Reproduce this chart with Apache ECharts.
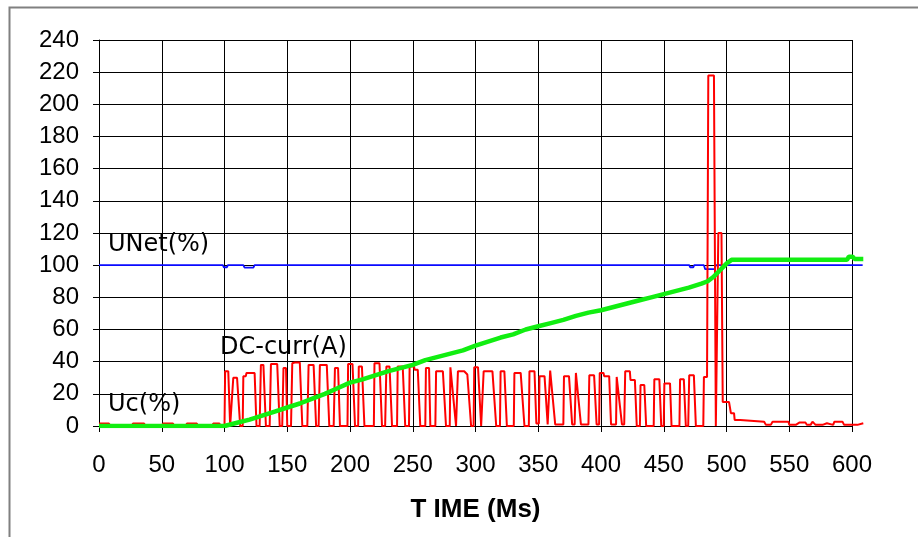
<!DOCTYPE html>
<html>
<head>
<meta charset="utf-8">
<script src="https://cdn.jsdelivr.net/npm/echarts@6/dist/echarts.min.js"></script>
<style>
  html, body { margin: 0; padding: 0; background: #fff; }
  #chart { width: 918px; height: 537px; }
</style>
</head>
<body>
<div id="chart"></div>
<script>
// UNet(%) - blue, flat at 100 with a few small dips
const uNetData = [
    [0, 100], [98.7, 100], [99.5, 98.7], [102, 98.7], [102.7, 100],
    [115, 100], [116, 98.5], [123, 98.5], [124, 100],
    [470.3, 100], [471, 98.7], [473.5, 98.7], [474.3, 100],
    [482, 100], [483, 97.5], [490.5, 97.5], [491.5, 100], [608.5, 100]
];

// DC-curr(A) - red pulse train, spikes near 490 ms
const dcCurrData = [
    [0, 1.5], [8, 1.5], [9, 0], [26, 0], [27, 1.5], [36, 1.5], [37, 0], [50, 0], [51, 1.5], [59, 1.5],
    [60, 0], [69, 0], [70, 1.5], [78, 1.5], [79, 0], [90, 0], [91, 1.5], [96, 1.5], [97, 0], [100, 0],
    [100.5, 34], [103, 34], [104.5, 0], [106, 0], [107, 30], [110, 30], [112.5, 0], [114.5, 0],
    [115, 31], [117, 31], [117.5, 33], [124, 33], [125.5, 0], [128, 0], [129, 38], [131, 38], [133, 0],
    [136, 0], [137, 38.5], [142, 38.5], [144, 0], [146, 0], [147, 36], [149, 36], [150, 0], [153, 0],
    [154, 39], [156, 39.5], [160, 39.5], [162, 0], [166, 0], [167, 38], [171, 38], [173, 0],
    [175, 0], [176, 38], [181.5, 38], [183.5, 0], [187, 0], [188, 36], [190.5, 36], [192, 0],
    [198, 0], [198.5, 38.5], [202, 38.5], [204, 0], [206.5, 0], [207, 37], [209.5, 37], [211.5, 0],
    [219, 0], [219.5, 39], [223.5, 39], [225.5, 0], [228, 0], [229, 37], [231.5, 37], [233.5, 0],
    [237.5, 0], [238, 37], [242, 37], [244, 0], [247, 0], [247.5, 37], [251, 37], [251.5, 35], [254, 35],
    [256, 0], [260, 0], [260.5, 36], [263, 36], [264, 0], [268, 0], [268.6, 34], [274, 34], [276.5, 0],
    [279.5, 0], [280, 36.5], [281.5, 36.5], [284.5, 0], [285.5, 0], [286, 34], [291, 34], [293.5, 32],
    [295, 32], [296.5, 0], [298.5, 0], [299, 36.5], [302, 36.5], [304.5, 0], [306, 0], [306.5, 34],
    [313.5, 34], [316.5, 0], [319.5, 0], [320, 34], [323, 34], [325, 0], [330.5, 0], [331, 33], [336, 33],
    [339, 0], [342.5, 0], [343, 34], [347, 34], [348.5, 1.5], [350.5, 1.5], [351, 31], [355, 31],
    [357.5, 1], [358.5, 1], [359.5, 34.5], [360.5, 34.5], [363.5, 1], [370, 1], [370.5, 31], [374.5, 31],
    [377, 1], [379, 1], [380, 33], [381, 33], [384, 1], [390, 1], [390.7, 31.5], [394.5, 31.5], [396.5, 1],
    [398.5, 1], [399, 33], [402, 33], [402.5, 31], [406.5, 31], [408, 1], [412, 1], [412.5, 30.5],
    [414, 30.5], [416.7, 1], [418.5, 1], [419.3, 34], [423, 34], [423.5, 28.6], [427, 28.6], [428.5, 0],
    [431, 0], [431.5, 25.5], [434.5, 25.5], [436, 0], [442, 0], [442.5, 29], [446.5, 29], [448, 0],
    [450, 0], [450.5, 26.5], [455, 26.5], [456.2, 0], [462.5, 0], [463, 29], [466, 29], [467.6, 0],
    [469.5, 0], [470.3, 31.5], [474, 31.5], [475.6, 0], [481.5, 0], [482, 30.5], [484.5, 30.5],
    [485.5, 218], [490, 218], [491.5, 0], [493, 0], [493.5, 120], [496, 120], [497, 15], [502, 15],
    [503.5, 8], [506, 8], [506.5, 3.8], [511, 3.8], [511.5, 2.7], [530, 2.7], [531.4, 0.7], [535.3, 0.7],
    [536.7, 2.7], [549.4, 2.7], [550, 0.7], [555.2, 0.7], [558, 2.1], [563, 2.1], [564, 0.7], [567, 0.7],
    [568.5, 2.7], [570, 2.7], [571, 0.7], [576.5, 0.7], [578, 1.7], [580, 1.7], [581, 0.7], [585, 0.7],
    [586, 2.7], [592.4, 2.7], [593.7, 0.7], [604.3, 0.7], [605.7, 1.7], [609, 1.7]
];

// Uc(%) - green ramp
const ucData = [
    [0, 0], [100, 0], [110, 2], [120, 4], [130, 6.5], [140, 9], [150, 11.5], [160, 14], [170, 17],
    [180, 20], [190, 23.5], [200, 27], [210, 29], [220, 31.5], [230, 34], [240, 36], [250, 38],
    [260, 41], [270, 43], [280, 45], [290, 47], [300, 50], [310, 52.5], [320, 55], [330, 57],
    [340, 60], [350, 62], [360, 64], [370, 66], [380, 68.5], [390, 70.5], [400, 72], [410, 74],
    [420, 76], [430, 78], [440, 80], [450, 82], [460, 84], [470, 86], [480, 88.5], [485, 90],
    [490, 93], [495, 97], [500, 101], [504, 103.3], [596, 103.3], [597.5, 105.3], [600.5, 105.3],
    [602, 103.9], [609, 103.9]
];

const xAxisName = 'T IME (Ms)';
const seriesLabels = ['UNet(%)', 'DC-curr(A)', 'Uc(%)'];

const chart = echarts.init(document.getElementById('chart'), null, { renderer: 'canvas' });

const tickFont = 'Liberation Sans, Arial, sans-serif';
const labelFont = 'DejaVu Sans, Liberation Sans, sans-serif';

// the traces run a little past 600 ms while the grid stops at 600,
// so the data sits on a second (hidden) grid that reaches 610
const plotLeft = 99;
const plotRight = 66;
const pxPerMs = (918 - plotLeft - plotRight) / 600;

const lineSeries = (name, data, color, width, z) => ({
    name,
    type: 'line',
    data,
    xAxisIndex: 1,
    yAxisIndex: 1,
    showSymbol: false,
    lineStyle: { color, width },
    z
});

const option = {
    backgroundColor: '#fff',
    animation: false,
    grid: [
        { left: plotLeft, right: plotRight, top: 40, bottom: 111, containLabel: false },
        { left: plotLeft, right: plotRight - 10 * pxPerMs, top: 40, bottom: 111, containLabel: false }
    ],
    xAxis: [
        {
            type: 'value',
            gridIndex: 0,
            min: 0,
            max: 600,
            interval: 50,
            name: xAxisName,
            nameLocation: 'middle',
            nameGap: 71,
            nameTextStyle: { fontFamily: 'Liberation Sans, Arial', fontWeight: 'bold', fontSize: 26, color: '#000' },
            axisLine: { lineStyle: { color: '#000', width: 1 } },
            axisTick: { show: true, length: 6, lineStyle: { color: '#000' } },
            axisLabel: { fontFamily: tickFont, fontSize: 24, color: '#000', margin: 27 },
            splitLine: { show: true, lineStyle: { color: '#000', width: 1 } }
        },
        { type: 'value', gridIndex: 1, min: 0, max: 610, show: false }
    ],
    yAxis: [
        {
            type: 'value',
            gridIndex: 0,
            min: 0,
            max: 240,
            interval: 20,
            axisLine: { show: true, lineStyle: { color: '#000', width: 1 } },
            axisTick: { show: true, length: 6, lineStyle: { color: '#000' } },
            axisLabel: { fontFamily: tickFont, fontSize: 24, color: '#000', margin: 20 },
            splitLine: { show: true, lineStyle: { color: '#000', width: 1 } }
        },
        { type: 'value', gridIndex: 1, min: 0, max: 240, show: false }
    ],
    series: [
        lineSeries(seriesLabels[0], uNetData, '#0a0aff', 1.8, 3),
        lineSeries(seriesLabels[1], dcCurrData, '#ff0000', 2, 4),
        lineSeries(seriesLabels[2], ucData, '#11ee11', 4.5, 5)
    ],
    graphic: [
        // outer frame (only top and left edges are visible)
        {
            type: 'rect',
            shape: { x: 9.5, y: 7.5, width: 1000, height: 1000 },
            style: { fill: 'none', stroke: '#808080', lineWidth: 2 },
            silent: true
        },
        {
            type: 'text', left: 108, top: 233,
            style: { text: seriesLabels[0], font: '24px ' + labelFont, fill: '#000' }
        },
        {
            type: 'text', left: 220, top: 336,
            style: { text: seriesLabels[1], font: '24px ' + labelFont, fill: '#000' }
        },
        {
            type: 'text', left: 108, top: 393,
            style: { text: seriesLabels[2], font: '24px ' + labelFont, fill: '#000' }
        }
    ]
};

chart.setOption(option);
</script>
</body>
</html>
